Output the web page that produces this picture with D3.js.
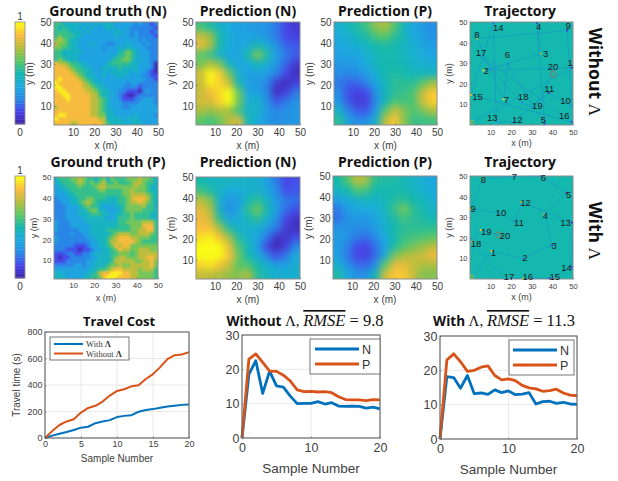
<!DOCTYPE html>
<html>
<head>
<meta charset="utf-8">
<title>Field reconstruction</title>
<style>
html, body { margin:0; padding:0; background:#fff; }
svg { display:block; }
text { font-family:"Liberation Sans", Arial, sans-serif; fill:#404040; }
.ttl { font-family:"Open Sans", sans-serif; font-weight:700; fill:#111; }
</style>
</head>
<body>
<script src="https://d3js.org/d3.v7.min.js"></script>
<script>
// parula-ish colormap
var parulaStops = ["#3e26a8","#4746eb","#268ce6","#1baade","#14b8ae","#5cc864","#b4bd3c","#f9bb3d","#f9fb15"];

// ground truth, one digit per cell, top row is y=50
var truthN = [
"55444443434344433333232212","54544434343334433332222221","55554443433333344332322212","56555443333333343332322221",
"67654433333333333333323222","76654433343332233343332322","66554433333323334344333222","55444443333333334565433322",
"55444433333333345565433322","56544433333333455665343322","87765544333334555554433320","88876554433344445444433320",
"88887655443343444443433210","88888765443343344433332211","89888876544333333333333221","98888887654433333323322222",
"99888887765443333222212222","89988888776544332211102322","88998888877544332100122222","88898888877654332111223332",
"88888888877654333222233332","78888888877654333223333333","88888888877654433333333333","89988888877664433333433332",
"98888888888774444344433333","88887788888875444434443333"];
var truthP = [
"45556676554564655566676654","44555676565675565556776554","34455565556776666666766544","33445555555665555667666544",
"33344555555555555667777654","23334455665554445567888754","22334456765444445567787654","22233345655433344566667554",
"22233344566443334566665554","22233344455544344556555544","22233334444443345556555544","32223333444444445566667775",
"32223333344444445556668885","32222233344445555556677885","22223223344444567776677765","32222222334445678887766655",
"32222222233445778888765555","22222111233445687886666666","22211101123344568776677766","11122112234444556665677777",
"10112222233444567766677887","11122222334444577777667786","22222332334445667667777786","33333333344556788777767775",
"44333333445788999887766665","44433334455689998887766665"];

// predicted fields in percent, 11x11, top row is y=50
var predN1 = [
[58,52,44,38,34,32,30,28,22,12,8],[78,72,50,40,35,34,33,28,22,12,10],[84,74,50,38,35,40,48,40,28,18,16],
[62,56,44,36,36,50,68,52,32,22,16],[66,76,68,46,36,38,48,40,30,18,8],[80,100,90,66,42,34,34,32,24,12,4],
[78,98,92,78,48,32,30,24,8,4,10],[78,86,94,100,64,36,34,24,4,10,22],[80,82,92,100,66,40,44,28,16,22,28],
[74,70,74,72,58,44,44,30,24,26,30],[62,58,64,76,82,48,38,30,26,28,30]];
var predP1 = [
[42,46,52,58,70,74,60,46,36,30,26],[38,42,48,52,60,62,54,46,38,32,28],[36,38,42,46,50,52,50,46,40,36,32],
[34,34,36,42,48,50,50,46,42,38,36],[30,30,32,38,46,50,50,48,44,42,40],[26,24,26,32,42,50,52,50,48,46,46],
[22,18,18,24,36,48,54,54,54,62,72],[26,14,10,14,30,46,54,56,60,78,90],[30,16,8,10,28,48,60,58,60,80,92],
[44,24,16,16,32,62,80,68,60,66,74],[54,34,26,28,44,78,90,68,56,56,58]];
var predN2 = [
[50,46,46,46,44,44,42,34,22,12,14],[58,52,44,38,38,42,44,36,26,14,16],[76,68,42,30,32,48,54,44,30,22,20],
[84,74,44,26,36,54,66,50,32,20,14],[86,80,54,34,40,48,54,42,28,12,6],[88,88,72,52,44,42,40,32,22,8,4],
[94,98,88,72,52,42,36,22,6,6,14],[100,100,100,84,60,46,34,12,2,10,26],[100,100,100,88,64,50,40,24,14,22,38],
[92,96,88,78,62,60,50,42,34,34,42],[78,76,74,70,68,74,54,46,42,40,42]];
var predP2 = [
[50,60,76,72,54,52,52,48,44,40,36],[46,50,60,58,50,50,50,50,46,42,38],[34,40,44,46,44,48,52,54,50,46,40],
[22,32,36,38,40,46,56,66,54,50,44],[20,28,30,30,36,44,52,58,54,52,48],[28,28,26,26,32,42,50,54,54,54,54],
[32,28,22,20,26,38,50,56,58,60,62],[32,24,14,12,20,36,52,60,66,70,76],[34,22,12,10,20,40,66,74,76,80,86],
[42,28,20,18,28,62,84,84,78,74,74],[52,38,28,28,48,80,90,90,78,68,68]];

// trajectories, index 0 is the start point, then samples 1..20
var trajAx = [1.1,49.4,6.6,34.3,32.5,36.2,18.3,16.3,3.6,47.2,49.4,38.2,21,12.8,11.3,0.5,49.4,4.7,25.2,30.9,40.3];
var trajAy = [1.3,27.8,26.5,34.6,49.4,0.6,29.6,12.5,41.9,45.9,9,15.6,1.5,1.5,49.4,14.6,1.5,33.9,10.9,8.4,24.7];
var trajAv = [65,5,95,72,8,12,25,92,70,8,25,6,30,30,20,82,10,30,25,30,45];
var labelAx = [48.6,8,36.7,33.3,35.6,18.2,17.7,3.4,47.7,46.4,38.5,22.9,10.8,13.7,3.6,45.8,5.3,25.8,32.7,40.3];
var labelAy = [30.2,26.5,34.5,48,2.8,34.4,12.3,44.1,48.1,11.7,17.6,2.6,3.4,47.4,14,4.4,35.2,13.6,9.5,28.5];

var trajBx = [1,10.4,25.7,39.8,35.9,46.8,34.6,21.2,6.3,0.3,13.1,21.7,25,49.5,49.5,38.7,25.7,16.8,1,5.2,13.9];
var trajBy = [1.1,13.5,10,16.4,31.4,41.8,50,49.8,48.7,34.2,32.3,27.7,37.4,27.4,5.6,0.3,0.3,0.3,18,23.7,21.4];
var trajBv = [65,92,30,10,72,12,20,25,70,80,30,25,85,5,15,10,70,40,82,90,45];
var labelBx = [11.3,26.7,40.8,36.6,47.9,35.6,21.5,6.5,1.5,15,23.8,27,46.4,46.9,41.1,28,18.9,2.9,7.9,17];
var labelBy = [13,10.3,16.1,31,41.1,49,49.5,48.2,34,32.3,27.3,37.1,27.3,5.6,1.4,1.4,1.4,17.1,23,21];

// line charts
var samples = d3.range(0, 21);
var costWith = [0,18,32,45,60,78,85,112,125,135,158,167,172,198,212,218,228,237,243,250,253];
var costWithout = [0,52,98,125,142,192,227,243,275,320,355,368,390,398,445,482,535,595,625,630,648];
var rmseN1 = [0,18.5,22.5,13,19.5,15.2,14.8,12.2,10,10.1,10.1,10.6,9.9,10.3,9.3,9.2,9.3,9.2,8.7,9,8.5];
var rmseP1 = [0,23,24.5,22,19.5,19.4,18.3,16.6,14,13.5,13.6,13.4,13.5,13.2,12,11.2,11.1,11.1,10.9,11.2,11.1];
var rmseN2 = [0,18.2,17.9,14.8,18.5,13.2,13.4,13,14.3,13.5,14,12.9,13.1,13.5,10.2,10.9,11,10.4,10.7,10.2,10.1];
var rmseP2 = [0,23,24.8,22.5,19.7,20,20.9,21.3,18.5,17.2,17.5,17,15.6,14.9,14.6,13.9,14.1,14.5,13.4,12.8,12.6];

var BLUE = "#0072BD", ORANGE = "#D95319";

var color = d3.scaleLinear()
    .domain(parulaStops.map(function(d, i){ return i / (parulaStops.length - 1); }))
    .range(parulaStops)
    .clamp(true);

var svg = d3.select("body").append("svg").attr("width", 618).attr("height", 481);
var defs = svg.append("defs");

function blurFilter(id, sd){
  var f = defs.append("filter").attr("id", id)
      .attr("x", "-30%").attr("y", "-30%").attr("width", "160%").attr("height", "160%")
      .attr("color-interpolation-filters", "sRGB");
  f.append("feGaussianBlur").attr("stdDeviation", sd);
}
blurFilter("soft", 3.8);
blurFilter("fine", 0.9);

var clipCount = 0;

function heatCells(g, rows, w, h, valueOf, filterId){
  var n = rows.length;
  var bx = d3.scaleBand().domain(d3.range(n)).range([0, w]);
  var by = d3.scaleBand().domain(d3.range(n)).range([0, h]);
  var cells = [];
  rows.forEach(function(r, j){ d3.range(n).forEach(function(i){ cells.push({i:i, j:j, v:valueOf(r, i)}); }); });
  var id = "clip" + (clipCount++);
  defs.append("clipPath").attr("id", id).append("rect").attr("width", w).attr("height", h);
  // outer cells run past the frame so the blur has no transparent edge
  var pad = 16;
  g.append("g").attr("clip-path", "url(#" + id + ")")
    .append("g").attr("filter", "url(#" + filterId + ")")
    .selectAll("rect").data(cells).enter().append("rect")
    .attr("x", function(d){ return bx(d.i) - (d.i == 0 ? pad : 0); })
    .attr("y", function(d){ return by(d.j) - (d.j == 0 ? pad : 0); })
    .attr("width", function(d){ return bx.bandwidth() + 0.5 + (d.i == 0 || d.i == n - 1 ? pad : 0); })
    .attr("height", function(d){ return by.bandwidth() + 0.5 + (d.j == 0 || d.j == n - 1 ? pad : 0); })
    .attr("fill", function(d){ return color(d.v); });
}

function mapAxes(g, w, h, dom, o){
  var x = d3.scaleLinear().domain(dom).range([0, w]);
  var y = d3.scaleLinear().domain(dom).range([h, 0]);
  var ticks = [10, 20, 30, 40, 50];
  var ax = g.append("g").attr("transform", "translate(0," + h + ")")
      .call(d3.axisBottom(x).tickValues(ticks).tickSizeInner(-1.5).tickSizeOuter(0).tickPadding(o.pad));
  var ay = g.append("g")
      .call(d3.axisLeft(y).tickValues(ticks).tickSizeInner(-1.5).tickSizeOuter(0).tickPadding(2.5));
  [ax, ay].forEach(function(a){
    a.selectAll("text").style("font-size", o.tick + "px").attr("fill", "#404040");
    a.selectAll("line").attr("stroke", "#555").attr("stroke-width", 0.6);
    a.select(".domain").remove();
  });
  g.append("rect").attr("width", w).attr("height", h)
    .attr("fill", "none").attr("stroke", "#8c8c8c").attr("stroke-width", 1);
  g.append("text").attr("x", w / 2).attr("y", h + o.xl).attr("text-anchor", "middle")
    .style("font-size", o.label + "px").text("x (m)");
  g.append("text").attr("transform", "translate(" + o.yl + "," + (h / 2) + ") rotate(-90)")
    .attr("text-anchor", "middle").style("font-size", o.label + "px").text("y (m)");
  return {x:x, y:y};
}

function title(txt, cx, base, size){
  svg.append("text").attr("class", "ttl").attr("x", cx).attr("y", base)
    .attr("text-anchor", "middle").style("font-size", size + "px").text(txt);
}

function panel(x0, y0, w, h){
  return svg.append("g").attr("transform", "translate(" + x0 + "," + y0 + ")");
}

function truthPanel(rows, x0, y0, w, h, o){
  var g = panel(x0, y0, w, h);
  heatCells(g, rows, w, h, function(r, i){ return 0.03 + (+r.charAt(i)) * 0.105; }, "fine");
  mapAxes(g, w, h, [1, 50], o);
}

function predPanel(rows, x0, y0, w, h, o){
  var g = panel(x0, y0, w, h);
  heatCells(g, rows, w, h, function(r, i){ return r[i] / 100; }, "soft");
  mapAxes(g, w, h, [1, 50], o);
}

function trajPanel(px, py, pv, lx, ly, x0, y0, w, h, o){
  var g = panel(x0, y0, w, h);
  g.append("rect").attr("width", w).attr("height", h).attr("fill", color(0.5));
  var s = mapAxes(g, w, h, [0, 50], o);
  var pts = px.map(function(d, i){ return {x:d, y:py[i], v:pv[i]}; });
  var line = d3.line().x(function(d){ return s.x(d.x); }).y(function(d){ return s.y(d.y); });
  g.append("path").datum(pts).attr("d", line)
    .attr("fill", "none").attr("stroke", "#1f7fd6").attr("stroke-width", 0.6)
    .attr("stroke-dasharray", "1.6,0.8");
  g.selectAll(".pt").data(pts.slice(1, 20)).enter().append("circle").attr("class", "pt")
    .attr("cx", function(d){ return s.x(d.x); }).attr("cy", function(d){ return s.y(d.y); })
    .attr("r", 1.1).attr("fill", function(d){ return color(d.v / 100); });
  g.append("rect").attr("x", s.x(px[0]) - 1.6).attr("y", s.y(py[0]) - 1.6).attr("width", 3.2).attr("height", 3.2)
    .attr("fill", "none").attr("stroke", "#a5c23c").attr("stroke-width", 0.7);
  g.append("circle").attr("cx", s.x(px[20])).attr("cy", s.y(py[20])).attr("r", 3)
    .attr("fill", "none").attr("stroke", "#b5613c").attr("stroke-width", 0.7);
  g.selectAll(".num").data(lx).enter().append("text").attr("class", "num")
    .attr("x", function(d){ return s.x(d); })
    .attr("y", function(d, i){ return s.y(ly[i]); })
    .attr("text-anchor", "middle").attr("dy", "0.36em")
    .style("font-size", "9.5px").style("fill", "#1a1a1a")
    .text(function(d, i){ return i + 1; });
}

function colorbar(x0, y0, w, h){
  var g = panel(x0, y0, w, h);
  var steps = d3.range(0, 64);
  var by = d3.scaleBand().domain(steps).range([h, 0]);
  g.selectAll("rect").data(steps).enter().append("rect")
    .attr("x", 0).attr("width", w)
    .attr("y", function(d){ return by(d); }).attr("height", by.bandwidth() + 0.4)
    .attr("fill", function(d){ return color(d / 63); });
  g.append("rect").attr("width", w).attr("height", h).attr("fill", "none")
    .attr("stroke", "#8c8c8c").attr("stroke-width", 0.8);
  g.append("text").attr("x", w / 2).attr("y", -2).attr("text-anchor", "middle").style("font-size", "10px").text("1");
  g.append("text").attr("x", w / 2).attr("y", h + 12).attr("text-anchor", "middle").style("font-size", "10px").text("0");
}

function lineChart(x0, y0, w, h, o){
  var g = panel(x0, y0, w, h);
  var x = d3.scaleLinear().domain([0, 20]).range([0, w]);
  var y = d3.scaleLinear().domain(o.yDom).range([h, 0]);
  g.append("g").selectAll("line").data(o.xTicks.slice(1, -1)).enter().append("line")
    .attr("x1", function(d){ return x(d); }).attr("x2", function(d){ return x(d); })
    .attr("y1", 0).attr("y2", h).attr("stroke", "#e6e6e6").attr("stroke-width", 0.9);
  g.append("g").selectAll("line").data(o.yTicks.slice(1, -1)).enter().append("line")
    .attr("y1", function(d){ return y(d); }).attr("y2", function(d){ return y(d); })
    .attr("x1", 0).attr("x2", w).attr("stroke", "#e6e6e6").attr("stroke-width", 0.9);
  var line = d3.line().x(function(d, i){ return x(samples[i]); }).y(function(d){ return y(d); });
  o.series.forEach(function(s){
    g.append("path").datum(s.values).attr("d", line).attr("fill", "none")
      .attr("stroke", s.color).attr("stroke-width", o.lw).attr("stroke-linejoin", "round");
  });
  var ax = g.append("g").attr("transform", "translate(0," + h + ")")
      .call(d3.axisBottom(x).tickValues(o.xTicks).tickSizeInner(-1.5).tickSizeOuter(0).tickPadding(o.pad));
  var ay = g.append("g")
      .call(d3.axisLeft(y).tickValues(o.yTicks).tickSizeInner(-1.5).tickSizeOuter(0).tickPadding(2.5));
  [ax, ay].forEach(function(a){
    a.selectAll("text").style("font-size", o.tick + "px");
    a.selectAll("line").attr("stroke", "#555").attr("stroke-width", 0.6);
    a.select(".domain").remove();
  });
  g.append("rect").attr("width", w).attr("height", h).attr("fill", "none")
    .attr("stroke", "#666").attr("stroke-width", 1.2);
  g.append("text").attr("x", w / 2).attr("y", h + o.xl).attr("text-anchor", "middle")
    .style("font-size", o.label + "px").text("Sample Number");
  if (o.ylabel) {
    g.append("text").attr("transform", "translate(" + o.yl + "," + (h / 2) + ") rotate(-90)")
      .attr("text-anchor", "middle").style("font-size", o.label + "px").text(o.ylabel);
  }
}

function legend(b){
  var g = panel(b.x, b.y, b.w, b.h);
  g.append("rect").attr("width", b.w).attr("height", b.h).attr("fill", "#fff")
    .attr("stroke", "#666").attr("stroke-width", 0.9);
  b.items.forEach(function(it, i){
    var yy = b.first + i * b.step;
    g.append("line").attr("x1", b.lx0).attr("x2", b.lx1).attr("y1", yy).attr("y2", yy)
      .attr("stroke", it.color).attr("stroke-width", b.lw);
    var t = g.append("text").attr("x", b.lx1 + 3).attr("y", yy).attr("dy", "0.36em")
      .style("font-size", b.size + "px").style("fill", "#333");
    if (b.serif) t.style("font-family", "'Liberation Serif', serif");
    t.text(it.label);
    if (it.sym) t.append("tspan").style("font-weight", 700).text(" " + it.sym);
  });
}

function rmseTitle(prefix, val, cx, base){
  var serif = "'Liberation Serif', serif";
  var t = svg.append("text").attr("class", "ttl").attr("x", cx).attr("y", base)
    .attr("text-anchor", "middle").style("font-size", "13.5px");
  t.append("tspan").text(prefix + " ");
  t.append("tspan").style("font-family", serif).style("font-weight", 400).style("font-size", "15px").text("Λ, ");
  t.append("tspan").style("font-family", serif).style("font-weight", 400).style("font-size", "16.5px")
    .style("font-style", "italic").style("text-decoration", "overline").text("RMSE");
  t.append("tspan").style("font-family", serif).style("font-weight", 400).style("font-size", "16.5px")
    .text(" = " + val);
}

function sideLabel(txt, cx, cy){
  var t = svg.append("text").attr("class", "ttl")
    .attr("transform", "translate(" + cx + "," + cy + ") rotate(90)")
    .attr("text-anchor", "middle").style("font-size", "17.5px");
  t.append("tspan").text(txt + " ");
  t.append("tspan").style("font-family", "'Liberation Serif', serif").style("font-weight", 400).text("Λ");
}

var big = {tick:10, label:10, xl:24, yl:-21, pad:3.5};
var rowTwoTruth = {tick:8, label:9, xl:22, yl:-17, pad:3.5};
var small = {tick:7.5, label:9, xl:21, yl:-18, pad:5};

colorbar(15, 22, 10, 102);
colorbar(15, 176, 10, 102);

truthPanel(truthN, 54, 22, 104, 103, big);
predPanel(predN1, 196, 22, 104, 103, big);
predPanel(predP1, 334, 22, 103, 103, big);
trajPanel(trajAx, trajAy, trajAv, labelAx, labelAy, 470, 22, 103, 103, small);

truthPanel(truthP, 54, 177, 104, 102, rowTwoTruth);
predPanel(predN2, 196, 177, 104, 102, big);
predPanel(predP2, 333, 176, 104, 103, big);
trajPanel(trajBx, trajBy, trajBv, labelBx, labelBy, 470, 176, 103, 103, small);

title("Ground truth (N)", 108, 16, 14);
title("Prediction (N)", 248, 16, 14);
title("Prediction (P)", 385, 16, 14);
title("Trajectory", 520, 16, 14);
title("Ground truth (P)", 108, 167, 14);
title("Prediction (N)", 248, 167, 14);
title("Prediction (P)", 385, 167, 14);
title("Trajectory", 520, 167, 14);

sideLabel("Without", 589, 72);
sideLabel("With", 589, 231);

lineChart(45, 332, 144, 106, {
  yDom:[0, 800], xTicks:[0, 5, 10, 15, 20], yTicks:[0, 200, 400, 600, 800],
  series:[{values:costWith, color:BLUE}, {values:costWithout, color:ORANGE}],
  lw:2, tick:9, label:10, xl:24, yl:-25, ylabel:"Travel time (s)", pad:3
});
legend({x:50, y:337, w:79, h:23, first:7, step:9.5, lx0:4, lx1:33, lw:2, size:8.5, serif:true,
  items:[{label:"With", sym:"Λ", color:BLUE}, {label:"Without", sym:"Λ", color:ORANGE}]});

lineChart(242, 335, 138, 103, {
  yDom:[0, 30], xTicks:[0, 10, 20], yTicks:[0, 10, 20, 30],
  series:[{values:rmseN1, color:BLUE}, {values:rmseP1, color:ORANGE}],
  lw:2.8, tick:12.5, label:13.5, xl:35, pad:5.5
});
legend({x:310, y:339, w:70, h:35, first:10, step:15, lx0:5, lx1:49, lw:2.8, size:12.5,
  items:[{label:"N", color:BLUE}, {label:"P", color:ORANGE}]});

lineChart(440, 336, 137, 103, {
  yDom:[0, 30], xTicks:[0, 10, 20], yTicks:[0, 10, 20, 30],
  series:[{values:rmseN2, color:BLUE}, {values:rmseP2, color:ORANGE}],
  lw:2.8, tick:12.5, label:13.5, xl:35, pad:5.5
});
legend({x:509, y:340, w:65, h:35, first:10, step:15, lx0:4, lx1:48, lw:2.8, size:12.5,
  items:[{label:"N", color:BLUE}, {label:"P", color:ORANGE}]});

title("Travel Cost", 119, 326, 13);
rmseTitle("Without", "9.8", 305, 326);
rmseTitle("With", "11.3", 504, 326);
</script>
</body>
</html>
